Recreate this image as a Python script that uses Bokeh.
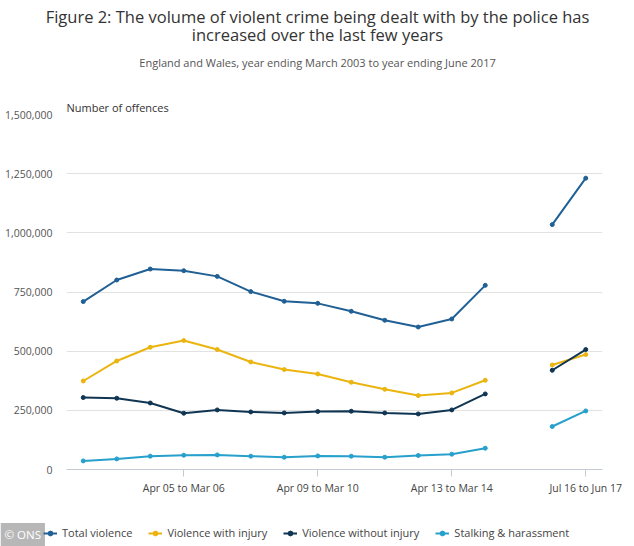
from bokeh.plotting import figure
from bokeh.layouts import column
from bokeh.models import (ColumnDataSource, FixedTicker, NumeralTickFormatter,
                          Label, Legend, LegendItem, Title, Range1d)
from bokeh.embed import file_html
from bokeh.resources import INLINE

nan = float("nan")

categories = [
    "Apr 02 to Mar 03", "Apr 03 to Mar 04", "Apr 04 to Mar 05", "Apr 05 to Mar 06",
    "Apr 06 to Mar 07", "Apr 07 to Mar 08", "Apr 08 to Mar 09", "Apr 09 to Mar 10",
    "Apr 10 to Mar 11", "Apr 11 to Mar 12", "Apr 12 to Mar 13", "Apr 13 to Mar 14",
    "Apr 14 to Mar 15", "", "Jul 15 to Jun 16", "Jul 16 to Jun 17",
]
labelled_categories = ["Apr 05 to Mar 06", "Apr 09 to Mar 10", "Apr 13 to Mar 14", "Jul 16 to Jun 17"]

total_violence = [709500, 800700, 847000, 840000, 816000, 751700, 710700, 702000,
                  668500, 630500, 602000, 636000, 778000, nan, 1034700, 1231000]
violence_with_injury = [374000, 458600, 516500, 544800, 506800, 454400, 422300, 403700,
                        368700, 339000, 312500, 323500, 377000, nan, 441700, 485600]
violence_without_injury = [304000, 301000, 281000, 237800, 251700, 243200, 239000, 245000,
                           246200, 239000, 234800, 251700, 319300, nan, 419300, 506800]
stalking_harassment = [36300, 44800, 56200, 60400, 61700, 56200, 52000, 57400,
                       56200, 52000, 59100, 64600, 90000, nan, 181600, 247500]

series_names = ["Total violence", "Violence with injury", "Violence without injury", "Stalking & harassment"]
series_values = [total_violence, violence_with_injury, violence_without_injury, stalking_harassment]
colors = ["#206095", "#ebb40f", "#0f3553", "#27a0cc"]

y_ticks = [0, 250000, 500000, 750000, 1000000, 1250000, 1500000]

title_line1 = "Figure 2: The volume of violent crime being dealt with by the police has"
title_line2 = "increased over the last few years"
subtitle = "England and Wales, year ending March 2003 to year ending June 2017"
y_title = "Number of offences"
credit = "© ONS"

FONT = "Open Sans"
W = 626

# ---------- header (titles) ----------
HEAD_H = 97
head = figure(width=W, height=HEAD_H, output_backend="svg", toolbar_location=None,
              x_range=Range1d(0, W), y_range=Range1d(HEAD_H, 0),
              min_border=0, x_axis_type=None, y_axis_type=None)
head.frame_align = False
head.outline_line_color = None
head.grid.visible = False
for txt, y, size, col in [(title_line1, 15.5, "16.5px", "#333333"),
                          (title_line2, 34, "16.5px", "#333333"),
                          (subtitle, 61.5, "11px", "#555555")]:
    head.add_layout(Label(x=317, y=y, text=txt, text_font=FONT, text_font_size=size,
                          text_color=col, text_align="center", text_baseline="middle"))

# ---------- main chart ----------
p = figure(frame_width=536, frame_height=355, output_backend="svg", toolbar_location=None,
           x_range=(-0.5, len(categories) - 0.5), y_range=(0, 1500000),
           min_border_left=66, min_border_right=24, min_border_top=0, min_border_bottom=30)
p.frame_align = False
p.outline_line_color = None

xs = list(range(len(categories)))
sources = []
for name, vals, col in zip(series_names, series_values, colors):
    src = ColumnDataSource(dict(x=xs, y=vals))
    sources.append(src)
    p.line("x", "y", source=src, line_color=col, line_width=2)
    p.scatter("x", "y", source=src, size=4, fill_color=col, line_color=col)

p.add_layout(Title(text=y_title, align="left", offset=0, standoff=0, text_font=FONT,
                   text_font_size="11px", text_color="#333333", text_font_style="normal"), "above")

p.xaxis.ticker = FixedTicker(ticks=[categories.index(c) for c in labelled_categories])
p.xaxis.major_label_overrides = {categories.index(c): c for c in labelled_categories}
p.xaxis.axis_line_color = "#c3cad3"
p.xaxis.major_tick_line_color = "#c3cad3"
p.xaxis.major_tick_out = 7
p.xaxis.major_tick_in = 0
p.xaxis.minor_tick_line_color = None
p.xaxis.major_label_standoff = 4
p.xaxis.major_label_text_font = FONT
p.xaxis.major_label_text_font_size = "10.5px"
p.xaxis.major_label_text_color = "#444444"

p.yaxis.ticker = FixedTicker(ticks=y_ticks)
p.yaxis.formatter = NumeralTickFormatter(format="0,0")
p.yaxis.axis_line_color = None
p.yaxis.major_tick_line_color = None
p.yaxis.minor_tick_line_color = None
p.yaxis.major_label_standoff = 8
p.yaxis.major_label_text_font = FONT
p.yaxis.major_label_text_font_size = "10.5px"
p.yaxis.major_label_text_color = "#555555"

p.xgrid.grid_line_color = None
p.ygrid.ticker = FixedTicker(ticks=y_ticks[1:])
p.ygrid.grid_line_color = "#e2e2e2"

# ---------- footer (legend + credit) ----------
FOOT_H = 47
foot = figure(width=W, height=FOOT_H, output_backend="svg", toolbar_location=None,
              x_range=Range1d(0, W), y_range=Range1d(FOOT_H, 0),
              min_border=0, x_axis_type=None, y_axis_type=None)
foot.frame_align = False
foot.outline_line_color = None
foot.grid.visible = False

# legend swatches: the same series sources, which fall outside this strip's ranges
items = []
for name, src, col in zip(series_names, sources, colors):
    r1 = foot.line("x", "y", source=src, line_color=col, line_width=2)
    r2 = foot.scatter("x", "y", source=src, size=4, fill_color=col, line_color=col)
    items.append(LegendItem(label=name, renderers=[r1, r2]))

foot.add_layout(Label(x=0, y=35, text=credit, text_font=FONT, text_font_size="11.5px",
                      text_color="white", text_baseline="middle",
                      background_fill_color="#b3b3b3", background_fill_alpha=0.95, padding=4))

legend = Legend(items=items, orientation="horizontal", location=(43, 6))
legend.label_text_font = FONT
legend.label_text_font_size = "11px"
legend.label_text_color = "#444444"
legend.glyph_width = 14
legend.glyph_height = 12
legend.label_height = 12
legend.label_standoff = 5
legend.spacing = 16
legend.padding = 0
legend.margin = 0
legend.border_line_color = None
legend.background_fill_alpha = 0
foot.add_layout(legend, "center")

layout = column(head, p, foot, spacing=0)
open("out.html", "w").write(file_html(layout, INLINE))
